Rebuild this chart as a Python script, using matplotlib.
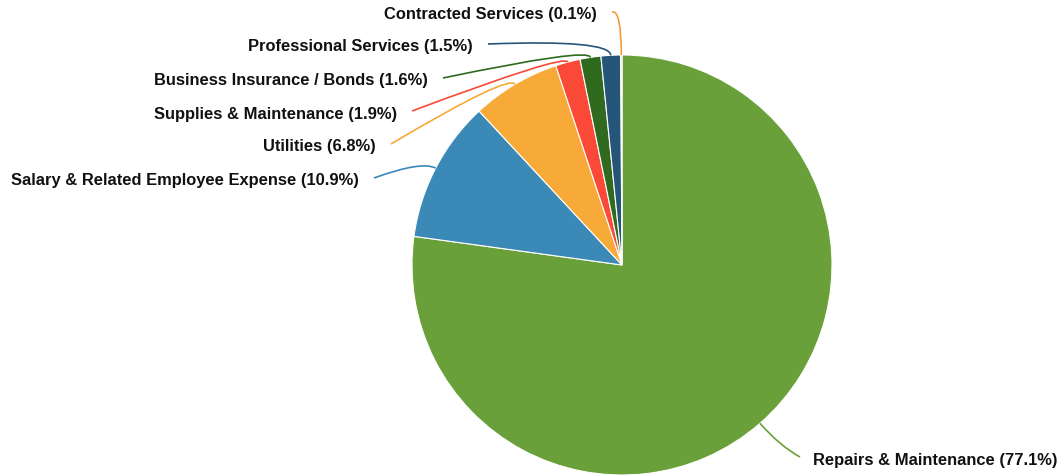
import numpy as np
import matplotlib.pyplot as plt
from matplotlib.path import Path
from matplotlib.patches import PathPatch

categories = ["Repairs & Maintenance", "Salary & Related Employee Expense", "Utilities",
              "Supplies & Maintenance", "Business Insurance / Bonds",
              "Professional Services", "Contracted Services"]
shares = [77.1, 10.9, 6.8, 1.9, 1.6, 1.5, 0.1]
colors = ["#69a03a", "#3a89b7", "#f7aa37", "#fa4a37", "#2f6a1f", "#255579", "#f59b3b"]

W, H = 1061, 476
cx, cy, r = 622, 265, 210

# label anchor (px from top-left), text side, and how far the leader runs out radially
label_pos = [(813, 460, "left", 30), (359, 181, "right", 16), (376, 147, "right", 12),
             (397, 114, "right", 9), (428, 81, "right", 10), (473, 47, "right", 16),
             (597, 15, "right", 46)]

fig = plt.figure(figsize=(W / 100, H / 100), dpi=100)
ax = fig.add_axes([0, 0, 1, 1])

ax.pie(shares, colors=colors, startangle=90, counterclock=False,
       center=(cx, H - cy), radius=r,
       wedgeprops=dict(edgecolor="white", linewidth=0.8))

ax.set_xlim(0, W)
ax.set_ylim(0, H)
ax.set_aspect("equal")
ax.axis("off")

total = sum(shares)
cum = 0
for name, val, col, (lx, ly, side, ext) in zip(categories, shares, colors, label_pos):
    mid = cum + val / 2
    cum += val
    ang = np.deg2rad(90 - 360 * mid / total)
    a = (cx + r * np.cos(ang), H - cy + r * np.sin(ang))
    c = (cx + (r + ext) * np.cos(ang), H - cy + (r + ext) * np.sin(ang))
    ex = lx + 15 if side == "right" else lx - 13
    e = (ex, H - ly + 3)
    path = Path([a, c, e], [Path.MOVETO, Path.CURVE3, Path.CURVE3])
    ax.add_patch(PathPatch(path, facecolor="none", edgecolor=col, linewidth=1.2))
    ax.text(lx, H - ly, f"{name} ({val}%)", ha=side, va="center",
            fontsize=11.9, fontweight="bold", family="Liberation Sans", color="#111111")

fig.savefig("out.png", dpi=100)
